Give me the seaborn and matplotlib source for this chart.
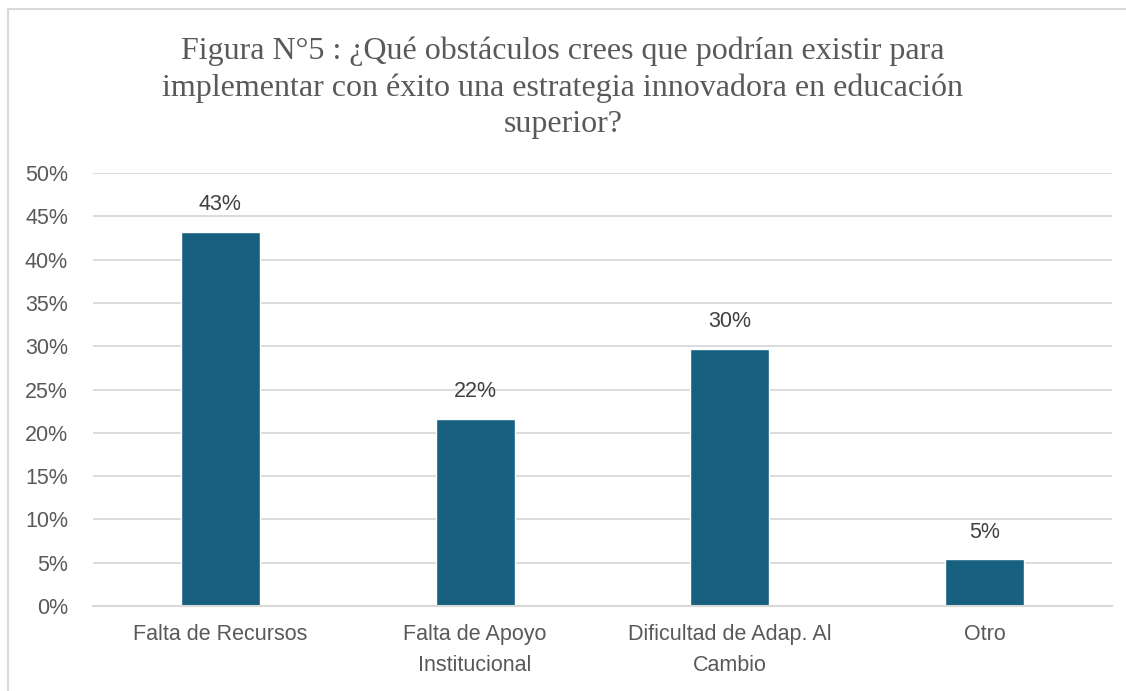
import matplotlib
matplotlib.use("Agg")
import matplotlib.pyplot as plt
import seaborn as sns
import pandas as pd
from matplotlib.patches import Rectangle
from matplotlib.ticker import PercentFormatter

# datos
categorias = ["Falta de Recursos", "Falta de Apoyo\nInstitucional",
              "Dificultad de Adap. Al\nCambio", "Otro"]
porcentajes = [43.2, 21.6, 29.7, 5.4]
etiquetas = ["43%", "22%", "30%", "5%"]

titulo = ("Figura N°5 : ¿Qué obstáculos crees que podrían existir para\n"
          "implementar con éxito una estrategia innovadora en educación\n"
          "superior?")

df = pd.DataFrame({"categoria": categorias, "valor": porcentajes})

sns.set_theme(style="white")
plt.rcParams['font.family'] = ['Liberation Sans', 'DejaVu Sans']

W, H = 1126, 691
fig = plt.figure(figsize=(W / 100, H / 100), dpi=100)
ax = fig.add_axes([93 / W, 1 - 606 / H, 1019 / W, 433 / H])

sns.barplot(data=df, x="categoria", y="valor", color="#17607F",
            width=0.31, saturation=1, ax=ax)

for i, (v, t) in enumerate(zip(porcentajes, etiquetas)):
    ax.annotate(t, (i, v), xytext=(0, 12), textcoords="offset points",
                ha="center", va="bottom", fontsize=15.5, color="#404040")

ax.set_ylim(0, 50)
ax.set_xlim(-0.5, 3.5)
ax.set_yticks(range(0, 51, 5))
ax.yaxis.set_major_formatter(PercentFormatter(decimals=0))
ax.grid(axis="y", color="#D9D9D9", linewidth=1.3)
ax.set_axisbelow(True)
for s in ["top", "right", "left"]:
    ax.spines[s].set_visible(False)
ax.spines["bottom"].set_color("#D9D9D9")
ax.spines["bottom"].set_linewidth(1.5)
ax.set_xlabel("")
ax.set_ylabel("")
ax.tick_params(axis="y", labelsize=15.5, labelcolor="#595959", pad=18, length=0)
ax.tick_params(axis="x", labelsize=15.5, labelcolor="#595959", pad=13, length=0)
for lbl in ax.get_xticklabels():
    lbl.set_linespacing(1.6)

fig.text(0.5, 1 - 88 / H, titulo, ha="center", va="center",
         fontsize=23, family=["Liberation Serif", "DejaVu Serif"],
         color="#595959", linespacing=1.32)

# borde del area del grafico
fig.patches.append(Rectangle((8 / W, -0.1), 1.2, 1 - 9 / H + 0.1,
                             transform=fig.transFigure, fill=False,
                             edgecolor="#D9D9D9", linewidth=1.5))

fig.savefig("out.png", dpi=100, facecolor="white")
